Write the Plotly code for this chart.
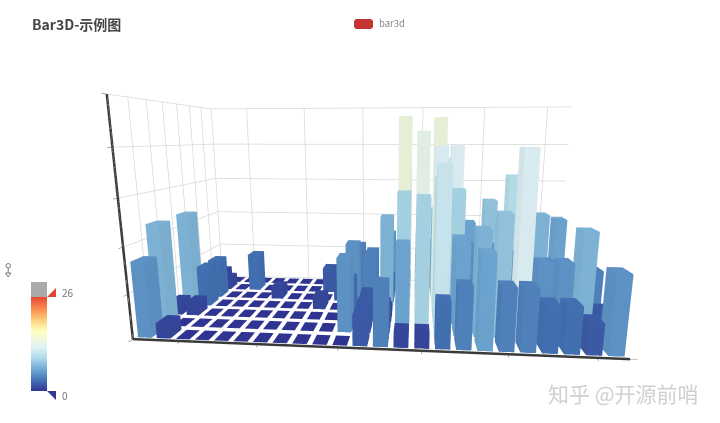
import plotly.graph_objects as go

# punch card counts, one list per row (front row first), 24 columns
day0 = [5, 1, 0, 0, 0, 0, 0, 0, 0, 0, 0, 2, 4, 1, 1, 3, 4, 6, 4, 4, 3, 3, 2, 5]
day1 = [7, 0, 0, 0, 0, 0, 0, 0, 0, 0, 5, 2, 2, 6, 9, 11, 6, 7, 8, 12, 5, 5, 7, 2]
day2 = [1, 1, 0, 0, 0, 0, 0, 0, 0, 0, 3, 2, 1, 9, 8, 10, 6, 5, 5, 5, 7, 4, 2, 4]
day3 = [7, 3, 0, 0, 0, 0, 0, 0, 1, 0, 5, 4, 7, 14, 13, 12, 9, 5, 5, 10, 6, 4, 4, 1]
day4 = [1, 3, 0, 0, 0, 1, 0, 0, 0, 2, 4, 4, 2, 4, 4, 14, 12, 1, 8, 5, 3, 7, 3, 0]
day5 = [2, 1, 0, 3, 0, 0, 0, 0, 2, 0, 4, 1, 5, 10, 5, 7, 11, 6, 0, 5, 3, 4, 2, 0]
day6 = [1, 0, 0, 0, 0, 0, 0, 0, 0, 0, 1, 0, 2, 1, 3, 4, 0, 0, 0, 0, 1, 2, 2, 6]
days = [day0, day1, day2, day3, day4, day5, day6]

x_ticks = [2.5, 6.5, 10.5, 14.5, 18.5, 22.5]
y_ticks = [0, 1, 2, 3, 4, 5, 6, 7]
z_ticks = [0, 3, 6, 9, 12, 15]
x_max, y_max, z_max = 24, 7, 15

# camera worked out from the box corners in the reference
eye = dict(x=0.137, y=-1.691, z=0.267)
center = dict(x=0.009, y=-0.222, z=-0.009)
cx, cy, dom_h = 376.2, 222.0, 372.0
half_w = min(cx, 720 - cx)

# one mesh for all bars, faces coloured through the colour scale
vx, vy, vz, fi, fj, fk, fv = [], [], [], [], [], [], []
half = 0.36
for row, values in enumerate(days):
    for col, val in enumerate(values):
        n = len(vx)
        x0, x1 = col + 0.5 - half, col + 0.5 + half
        y0, y1 = row + 0.5 - half, row + 0.5 + half
        vx += [x0, x1, x1, x0, x0, x1, x1, x0]
        vy += [y0, y0, y1, y1, y0, y0, y1, y1]
        vz += [0, 0, 0, 0, val, val, val, val]
        faces = [(4, 5, 6), (4, 6, 7)]
        if val > 0:
            faces += [(0, 1, 5), (0, 5, 4), (1, 2, 6), (1, 6, 5), (2, 3, 7), (2, 7, 6), (3, 0, 4), (3, 4, 7)]
        for a, b, c in faces:
            fi.append(n + a)
            fj.append(n + b)
            fk.append(n + c)
            fv.append(val)

colors = [
    [0.0, '#313695'], [0.1, '#4575b8'], [0.2, '#70a9d6'], [0.3, '#abd9e9'], [0.4, '#e0f3f8'],
    [0.55, '#ffffbf'], [0.62, '#fee090'], [0.7, '#fdae61'], [0.8, '#f46d43'], [0.8666, '#e0462f'],
    [0.8667, '#aaaaaa'], [1.0, '#aaaaaa'],
]

fig = go.Figure()
fig.add_trace(go.Mesh3d(
    x=vx, y=vy, z=vz, i=fi, j=fj, k=fk,
    intensity=fv, intensitymode='cell', colorscale=colors, cmin=0, cmax=30,
    flatshading=True, hoverinfo='skip',
    lighting=dict(ambient=0.93, diffuse=0.05, specular=0, roughness=1, fresnel=0),
    lightposition=dict(x=-100, y=-1000, z=300),
    colorbar=dict(x=31 / 720, xanchor='left', xpad=0, ypad=0, thickness=16, lenmode='pixels', len=109,
                  y=1 - 336.5 / 423, yanchor='middle', outlinewidth=0, showticklabels=False, ticks=''),
))

# grid on the back and left walls only, the floor stays clean
gx, gy, gz = [], [], []
for t in x_ticks:
    gx += [t, t, None]
    gy += [y_max, y_max, None]
    gz += [0, z_max, None]
for t in y_ticks:
    gx += [0, 0, None]
    gy += [t, t, None]
    gz += [0, z_max, None]
for t in z_ticks:
    gx += [0, x_max, None, 0, 0, None]
    gy += [y_max, y_max, None, 0, y_max, None]
    gz += [t, t, None, t, t, None]
fig.add_trace(go.Scatter3d(x=gx, y=gy, z=gz, mode='lines', line=dict(color='#d8d8d8', width=1.5),
                           hoverinfo='skip', showlegend=False))
# dark axis edges
fig.add_trace(go.Scatter3d(x=[0, 0, 24.4], y=[0, 0, 0], z=[z_max, 0, 0], mode='lines',
                           line=dict(color='#3a3a3a', width=5), hoverinfo='skip', showlegend=False))


def axis(tickvals, rng):
    return dict(range=rng, tickvals=tickvals, showticklabels=False, title='', showgrid=False,
                showbackground=False, zeroline=False, showline=False,
                ticks='outside', ticklen=5, tickcolor='#555555', showspikes=False)


def note(text, px, py, size, color, anchor='left'):
    return dict(text=text, x=px / 720, y=1 - py / 423, xref='paper', yref='paper', xanchor=anchor, yanchor='middle',
                showarrow=False, font=dict(size=size, color=color))


fig.update_layout(
    width=720, height=423, margin=dict(l=0, r=0, t=0, b=0), paper_bgcolor='white', showlegend=False,
    font=dict(family='Noto Sans CJK SC'),
    scene=dict(
        domain=dict(x=[(cx - half_w) / 720, (cx + half_w) / 720],
                    y=[max(0, 1 - (cy + dom_h / 2) / 423), min(1, 1 - (cy - dom_h / 2) / 423)]),
        xaxis=axis(x_ticks, [0, x_max]), yaxis=axis(y_ticks, [0, y_max]), zaxis=axis(z_ticks, [0, z_max]),
        aspectmode='manual', aspectratio=dict(x=1.6, y=0.711, z=0.796),
        camera=dict(eye=eye, center=center, up=dict(x=0, y=0, z=1), projection=dict(type='perspective')),
    ),
    title=dict(text='<b>Bar3D-示例图</b>', x=32 / 720, xanchor='left', y=1 - 25 / 423, yanchor='middle',
               font=dict(size=14, color='#464646')),
    annotations=[
        note('bar3d', 377, 23, 9.5, '#888888'),
        note('26', 60, 292, 10, '#777777'),
        note('0', 60, 395, 10, '#777777'),
        note('知乎 @开源前哨', 701, 393, 21, '#d0d0d0', 'right'),
    ],
)


def path(points):
    return 'M ' + ' L '.join(f'{px / 720} {1 - py / 423}' for px, py in points) + ' Z'


fig.update_layout(shapes=[
    dict(type='path', xref='paper', yref='paper', path=path([(47, 297), (56, 297), (56, 288)]),
         fillcolor='#e0452f', line_width=0),
    dict(type='path', xref='paper', yref='paper', path=path([(47, 391), (56, 391), (56, 400)]),
         fillcolor='#313695', line_width=0),
    dict(type='path', xref='paper', yref='paper',
         path=path([(356, 19), (371, 19), (373, 21), (373, 27), (371, 29), (356, 29), (354, 27), (354, 21)]),
         fillcolor='#c23531', line_width=0),
    dict(type='circle', xref='paper', yref='paper', x0=6 / 720, x1=10.5 / 720, y0=1 - 268 / 423, y1=1 - 263.5 / 423,
         line=dict(color='#777777', width=1)),
    dict(type='line', xref='paper', yref='paper', x0=8.2 / 720, x1=8.2 / 720, y0=1 - 268 / 423, y1=1 - 273 / 423,
         line=dict(color='#777777', width=1)),
    dict(type='path', xref='paper', yref='paper', path=path([(5.5, 273), (11, 273), (8.2, 277)]),
         fillcolor='white', line=dict(color='#777777', width=1)),
])

# the page's default body margin would shift the figure by 8px
fig.write_html('out.html', config={'displayModeBar': False}, post_script="document.body.style.margin='0';")
